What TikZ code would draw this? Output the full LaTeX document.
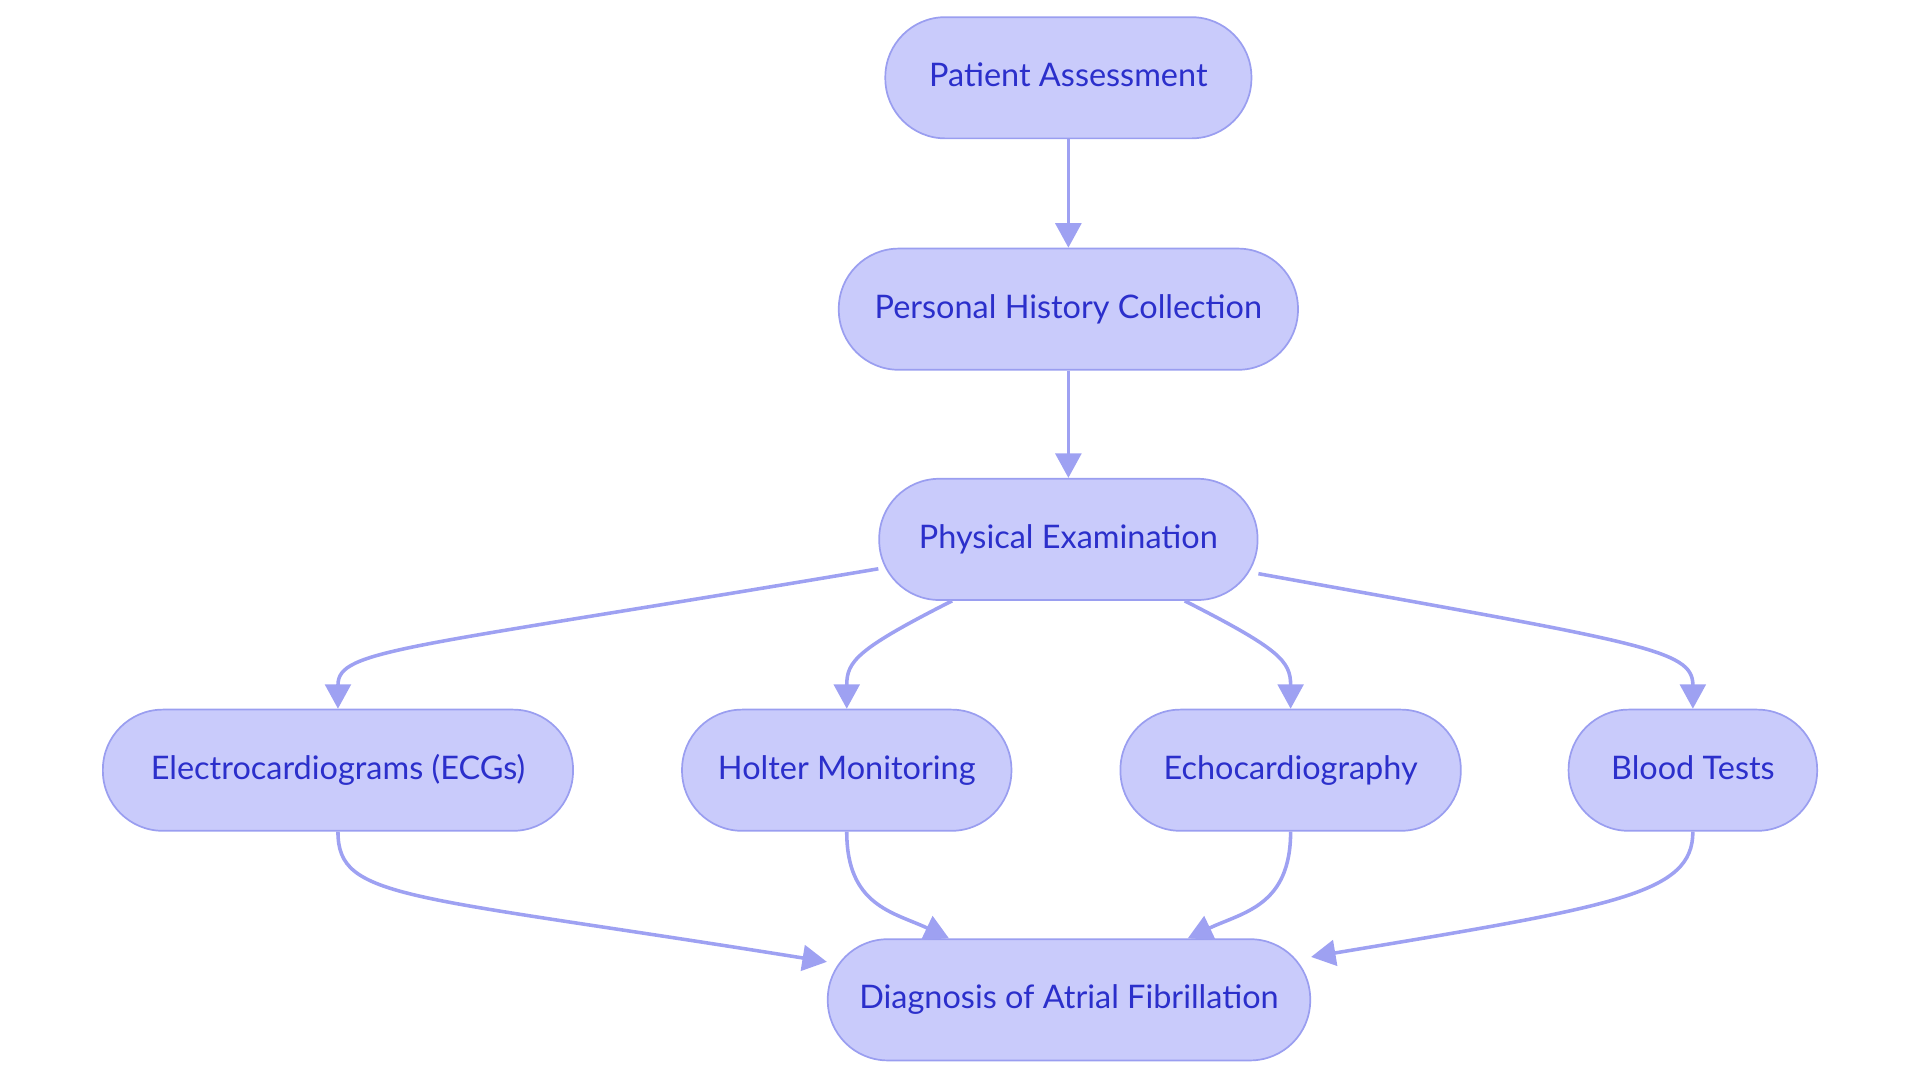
\documentclass[tikz,border=0pt]{standalone}
\usepackage{fontspec}
\setmainfont{Lato}
\usepackage{tikz}
\usetikzlibrary{arrows.meta}

\definecolor{boxfill}{HTML}{C9CBFB}
\definecolor{boxline}{HTML}{9A9EF0}
\definecolor{boxtext}{HTML}{2B2FCB}
\definecolor{edgeline}{HTML}{9EA1F2}

\begin{document}
\begin{tikzpicture}[x=1pt,y=-1pt,
    step box/.style={draw=boxline, line width=1.4pt, fill=boxfill, text=boxtext,
        rounded corners=49pt, minimum height=99pt, inner xsep=20pt,
        text height=19pt, text depth=4pt,
        font=\fontsize{26.5}{31}\selectfont},
    flow/.style={draw=edgeline, line width=2.9pt,
        -{Triangle[length=20pt,width=21pt]}}]
    \useasboundingbox (0,0) rectangle (1568,884.5);

    % Text Node
    \node [step box, minimum width=299pt] (pa) at (872.5,63.5) {Patient Assessment};
    % Text Node
    \node [step box, minimum width=375pt] (phc) at (872.5,252.5) {Personal History Collection};
    % Text Node
    \node [step box, minimum width=309pt] (pe) at (872.5,440.5) {Physical Examination};
    % Text Node
    \node [step box, minimum width=384pt] (ecg) at (276,629) {Electrocardiograms (ECGs)};
    % Text Node
    \node [step box, minimum width=269pt] (holter) at (691.5,629) {Holter Monitoring};
    % Text Node
    \node [step box, minimum width=278pt] (echo) at (1054,629) {Echocardiography};
    % Text Node
    \node [step box, minimum width=203pt] (blood) at (1382.5,629) {Blood Tests};
    % Text Node
    \node [step box, minimum width=394pt] (diag) at (873,816.5) {Diagnosis of Atrial Fibrillation};

    %Straight Lines
    \draw [flow] (pa) -- (phc);
    \draw [flow] (phc) -- (pe);

    %Curve Lines
    \draw [flow] ([yshift=-24pt]pe.west) .. controls (330,530) and (ecg.north |- 0,530) .. (ecg.north);
    \draw [flow] ([xshift=-95pt]pe.south) .. controls (700,530) and (holter.north |- 0,540) .. (holter.north);
    \draw [flow] ([xshift=95pt]pe.south) .. controls (1045,530) and (echo.north |- 0,540) .. (echo.north);
    \draw [flow] ([yshift=-28pt]pe.east) .. controls (1340,525) and (blood.north |- 0,530) .. (blood.north);

    %Curve Lines
    \draw [flow] (ecg.south) .. controls (ecg.south |- 0,735) and (330,730) .. ([yshift=31pt]diag.west);
    \draw [flow] (holter.south) .. controls (holter.south |- 0,740) and (730,745) .. ([xshift=-98pt]diag.north);
    \draw [flow] (echo.south) .. controls (echo.south |- 0,740) and (1015,745) .. ([xshift=97pt]diag.north);
    \draw [flow] (blood.south) .. controls (blood.south |- 0,730) and (1320,740) .. ([yshift=35pt]diag.east);

\end{tikzpicture}
\end{document}
